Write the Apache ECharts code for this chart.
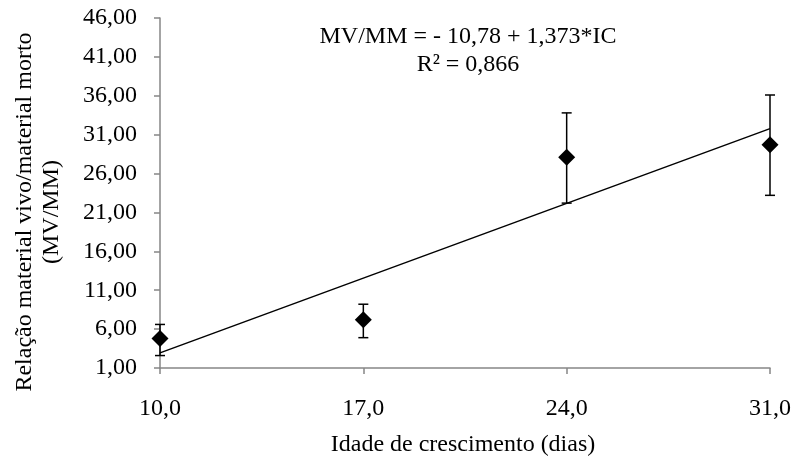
<!DOCTYPE html>
<html>
<head>
<meta charset="utf-8">
<script src="https://cdn.jsdelivr.net/npm/echarts@6/dist/echarts.min.js"></script>
<style>
  html, body { margin: 0; padding: 0; background: #fff; }
  #chart { width: 795px; height: 465px; }
</style>
</head>
<body>
<div id="chart"></div>
<script>
// idade de crescimento (dias)
var idades = [10, 17, 24, 31];
// relação MV/MM média e limites das barras de erro
var mvmm = [4.8, 7.2, 28.1, 29.7];
var erroSup = [6.6, 9.2, 33.8, 36.1];
var erroInf = [2.6, 4.9, 22.2, 23.2];
// reta ajustada (extremos)
var retaX = [10, 31];
var retaY = [2.95, 31.78];
var ticksY = [1, 6, 11, 16, 21, 26, 31, 36, 41, 46];

// eixos deslocados para os ticks começarem em 10 e 1,00
var X0 = 10, Y0 = 1;
var fonte = '"Liberation Serif", "Times New Roman", serif';
var cinza = '#868686';
var tam = 24;

var pontos = idades.map(function (x, i) { return [x - X0, mvmm[i] - Y0]; });
var barras = idades.map(function (x, i) { return [x - X0, erroInf[i] - Y0, erroSup[i] - Y0]; });
var reta = retaX.map(function (x, i) { return [x - X0, retaY[i] - Y0]; });

var chart = echarts.init(document.getElementById('chart'));
chart.setOption({
    animation: false,
    backgroundColor: '#fff',
    textStyle: { fontFamily: fonte },
    grid: { left: 160, right: 25, top: 18, bottom: 97, containLabel: false },
    xAxis: {
        type: 'value',
        min: 0, max: 21, interval: 7,
        splitLine: { show: false },
        axisLine: { lineStyle: { color: cinza, width: 1.5 } },
        axisTick: { show: true, length: 6, lineStyle: { color: cinza, width: 1.5 } },
        axisLabel: {
            margin: 29, fontSize: tam, color: '#000', fontFamily: fonte,
            formatter: function (v) { return (v + X0).toFixed(1).replace('.', ','); }
        }
    },
    yAxis: {
        type: 'value',
        min: 0, max: ticksY[ticksY.length - 1] - Y0, interval: 5,
        splitLine: { show: false },
        axisLine: { show: true, lineStyle: { color: cinza, width: 1.5 } },
        axisTick: { show: true, length: 6, lineStyle: { color: cinza, width: 1.5 } },
        axisLabel: {
            margin: 23, fontSize: tam, color: '#000', fontFamily: fonte,
            formatter: function (v) { return (v + Y0).toFixed(2).replace('.', ','); }
        }
    },
    series: [
        {
            type: 'line',
            data: reta,
            symbol: 'none',
            lineStyle: { color: '#000', width: 1.5 },
            z: 2
        },
        {
            type: 'custom',
            data: barras,
            renderItem: function (params, api) {
                var x = api.value(0);
                var top = api.coord([x, api.value(2)]);
                var bot = api.coord([x, api.value(1)]);
                var w = 5;
                var st = { stroke: '#000', lineWidth: 1.5 };
                return {
                    type: 'group',
                    children: [
                        { type: 'line', shape: { x1: top[0], y1: top[1], x2: bot[0], y2: bot[1] }, style: st },
                        { type: 'line', shape: { x1: top[0] - w, y1: top[1], x2: top[0] + w, y2: top[1] }, style: st },
                        { type: 'line', shape: { x1: bot[0] - w, y1: bot[1], x2: bot[0] + w, y2: bot[1] }, style: st }
                    ]
                };
            },
            z: 3
        },
        {
            type: 'scatter',
            data: pontos,
            symbol: 'diamond',
            symbolSize: [17, 17],
            itemStyle: { color: '#000', opacity: 1 },
            z: 4
        }
    ],
    graphic: [
        {
            type: 'text', x: 468, y: 51,
            style: {
                text: 'MV/MM = - 10,78 + 1,373*IC\nR² = 0,866',
                fontFamily: fonte, fontSize: tam, fill: '#000',
                align: 'center', verticalAlign: 'middle', lineHeight: 28
            }
        },
        {
            type: 'text', x: 463, y: 445,
            style: {
                text: 'Idade de crescimento (dias)',
                fontFamily: fonte, fontSize: tam, fill: '#000',
                align: 'center', verticalAlign: 'middle'
            }
        },
        {
            type: 'text',
            x: 38, y: 212, rotation: Math.PI / 2,
            style: {
                text: 'Relação material vivo/material morto\n(MV/MM)',
                fontFamily: fonte, fontSize: tam, fill: '#000',
                align: 'center', verticalAlign: 'middle', lineHeight: 27
            }
        }
    ]
});
</script>
</body>
</html>
